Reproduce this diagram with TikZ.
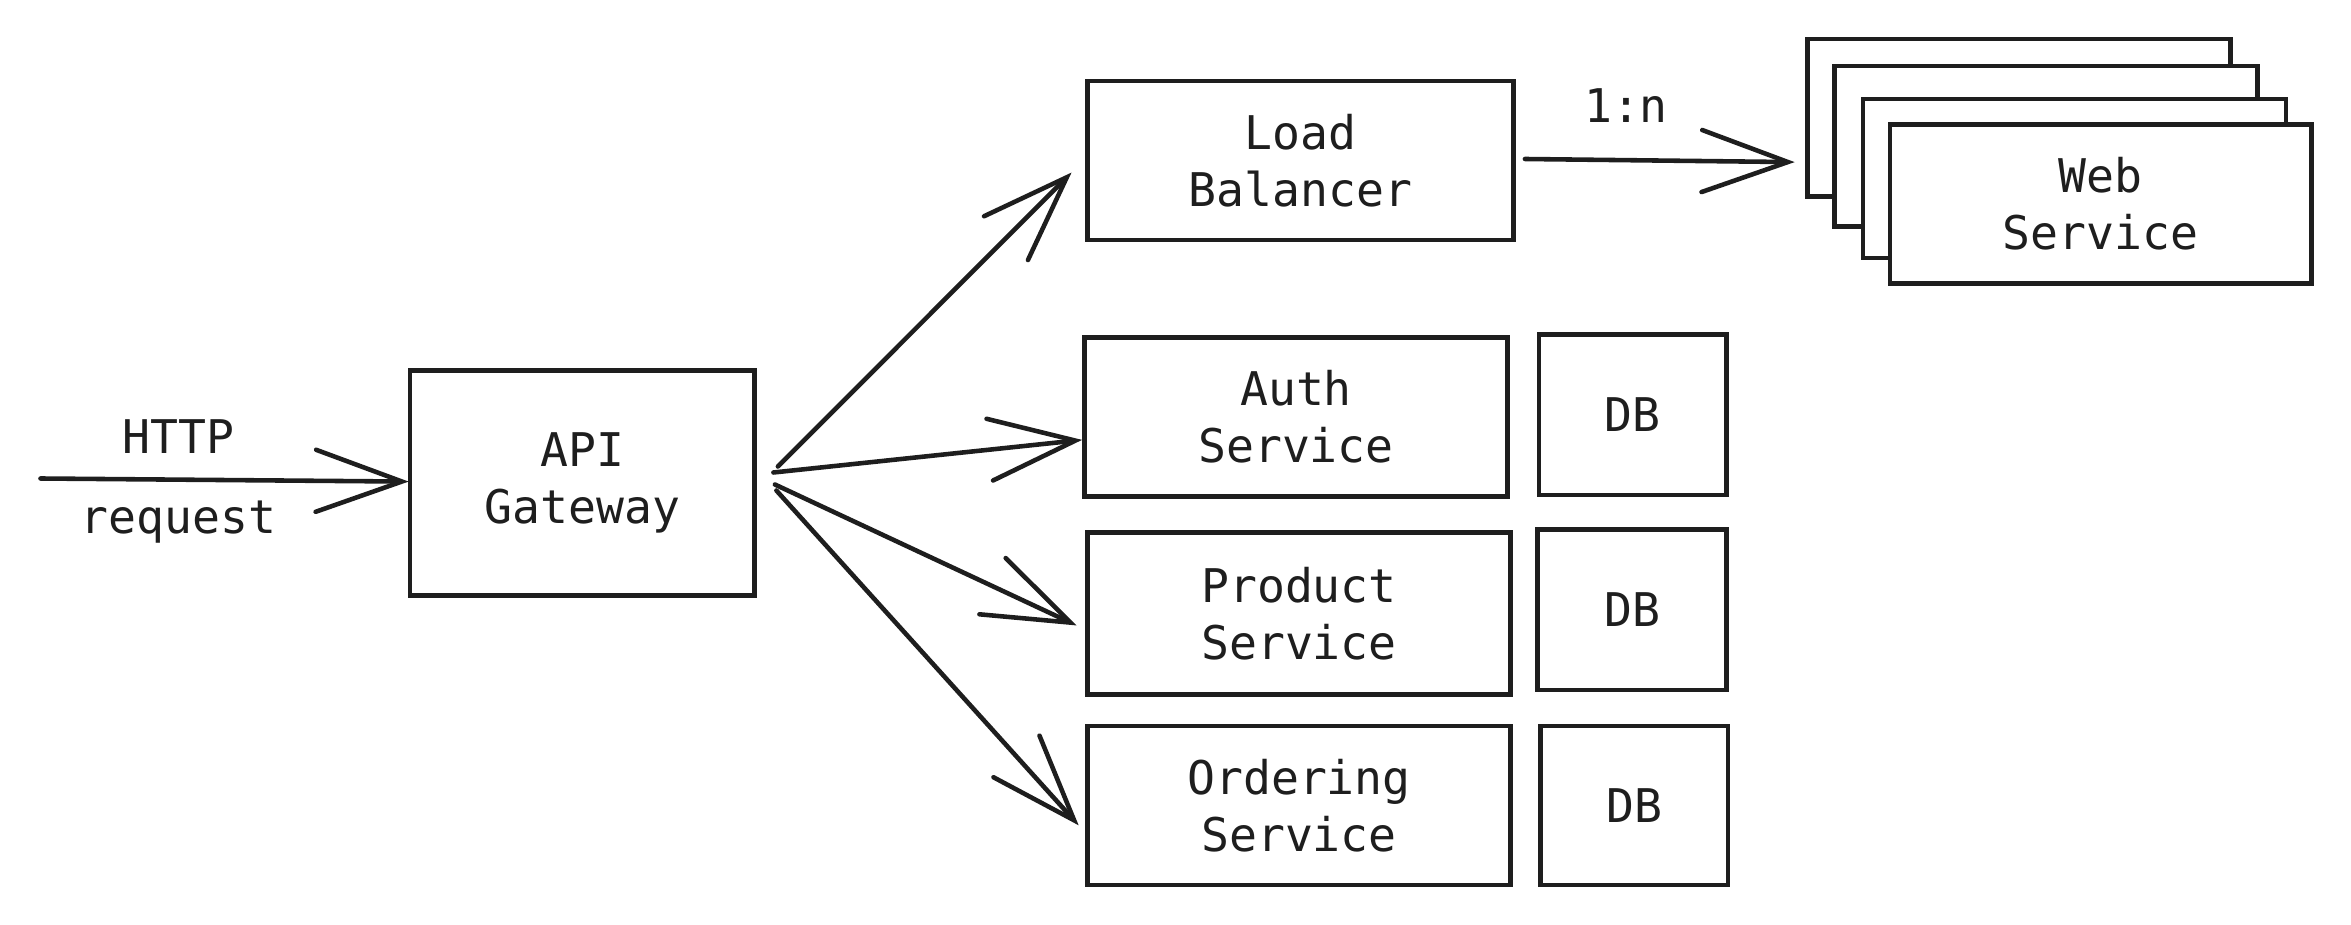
\documentclass[tikz,border=0pt]{standalone}
\usepackage{fontspec}
\newfontfamily\mono{DejaVu Sans Mono}
\usetikzlibrary{arrows.meta,calc}
\definecolor{ink}{HTML}{1E1E1E}
\tikzset{
  box/.style={draw=ink, text=ink, line width=1.3pt, inner sep=0pt, align=center,
    font=\mono\fontsize{13.2pt}{16.2pt}\selectfont, fill=white},
  lbl/.style={text=ink, font=\mono\fontsize{13.2pt}{16.2pt}\selectfont, inner sep=0pt, anchor=base},
  arr/.style={draw=ink, line width=1.3pt, line cap=round, shorten >=-3,
    -{Straight Barb[length=0.86cm,width=0.62cm,line cap=round]}}
}
\begin{document}
\begin{tikzpicture}[x=0.01cm,y=-0.01cm]
\useasboundingbox (0,0) rectangle (2351,925);
% nodes
\node[box, minimum width=3.445cm, minimum height=2.25cm] (gw) at (582.25,483) {API\\Gateway};
\node[box, minimum width=4.26cm, minimum height=1.59cm] (lb) at (1300.5,160.5) {Load\\Balancer};
\node[box, minimum width=4.23cm, minimum height=1.59cm] (auth) at (1296,417) {Auth\\Service};
\node[box, minimum width=1.875cm, minimum height=1.605cm] (db1) at (1632.75,414.75) {DB};
\node[box, minimum width=4.23cm, minimum height=1.62cm] (prod) at (1299,613.5) {Product\\Service};
\node[box, minimum width=1.89cm, minimum height=1.605cm] (db2) at (1632,609.75) {DB};
\node[box, minimum width=4.23cm, minimum height=1.59cm] (ord) at (1299,805.5) {Ordering\\Service};
\node[box, minimum width=1.875cm, minimum height=1.59cm] (db3) at (1634.25,805.5) {DB};
% web service stack
\node[box, minimum width=4.23cm, minimum height=1.575cm] (ws1) at (2019,117.75) {};
\node[box, minimum width=4.23cm, minimum height=1.605cm] (ws2) at (2046,146.25) {};
\node[box, minimum width=4.23cm, minimum height=1.59cm] (ws3) at (2074.5,178.5) {};
\node[box, minimum width=4.215cm, minimum height=1.59cm] (ws4) at (2100.75,204) {Web\\Service};
% labels
\node[lbl] (http) at (178.5,453.5) {HTTP};
\node[lbl] (req) at (178.5,534) {request};
\node[lbl] (ratio) at (1626,123) {1:n};
% connectors
\coordinate (src) at (40.5,478.5);
\draw[arr] (src) -- ($(gw.west)+(-9.5,-1.5)$);
\draw[arr] ($(lb.east)+(9,-1.5)$) -- ($(ws1.west)+(-21,44.25)$);
\draw[arr] ($(gw.east)+(21,-16.5)$) -- ($(lb.west)+(-21,19.5)$);
\draw[arr] ($(gw.east)+(16.5,-10.5)$) -- ($(auth.west)+(-10.5,24)$);
\draw[arr] ($(gw.east)+(18,1.5)$) -- ($(prod.west)+(-18,7.5)$);
\draw[arr] ($(gw.east)+(19.5,7.5)$) -- ($(ord.west)+(-13.5,12)$);
\end{tikzpicture}
\end{document}
